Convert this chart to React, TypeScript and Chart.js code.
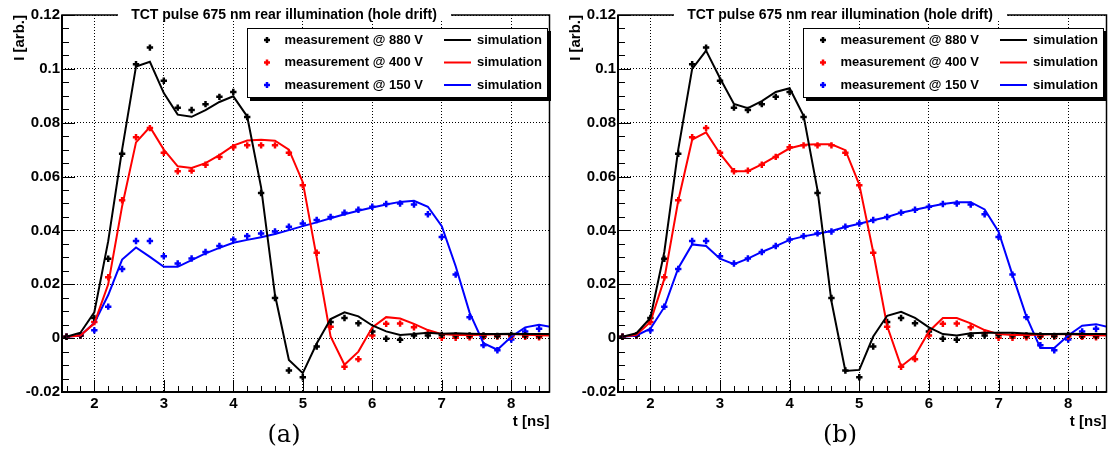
import React, { useEffect, useRef } from 'react';
import { Chart, registerables } from 'chart.js';

Chart.register(...registerables);

// ---------- text ----------
const plotTitle = 'TCT pulse 675 nm rear illumination (hole drift)';
const xAxisTitle = 't [ns]';
const yAxisTitle = 'I [arb.]';
const xTickLabels = ['2', '3', '4', '5', '6', '7', '8'];
const yTickLabels = ['-0.02', '0', '0.02', '0.04', '0.06', '0.08', '0.1', '0.12'];
const measLabels = ['measurement @ 880 V', 'measurement @ 400 V', 'measurement @ 150 V'];
const simLabel = 'simulation';
const panelTags = ['(a)', '(b)'];
const xRange = [1.535, 8.55];
const yRange = [-0.02, 0.12];

// ---------- data ----------
const timeNs = [1.6, 1.8, 2.0, 2.2, 2.4, 2.6, 2.8, 3.0, 3.2, 3.4, 3.6, 3.8, 4.0, 4.2, 4.4, 4.6, 4.8, 5.0,
  5.2, 5.4, 5.6, 5.8, 6.0, 6.2, 6.4, 6.6, 6.8, 7.0, 7.2, 7.4, 7.6, 7.8, 8.0, 8.2, 8.4];

const meas880V = [0.0005, 0.001, 0.0075, 0.0295, 0.0685, 0.1017, 0.1079, 0.0956, 0.0856, 0.0847, 0.0869,
  0.0896, 0.0914, 0.0821, 0.0539, 0.0149, -0.012, -0.0145, -0.0031, 0.006, 0.0075, 0.0055, 0.0025, -0.0002,
  -0.0006, 0.001, 0.001, 0.0012, 0.001, 0.001, 0.001, 0.0008, 0.0012, 0.001, 0.0008];
const meas400V = [0.0005, 0.001, 0.006, 0.0226, 0.0512, 0.0746, 0.078, 0.0688, 0.062, 0.0622, 0.0644,
  0.0673, 0.0709, 0.0716, 0.0716, 0.0716, 0.0688, 0.0568, 0.0317, 0.0042, -0.0106, -0.0078, 0.001, 0.0053,
  0.0054, 0.004, 0.0019, 0.0001, 0.0001, 0.0003, 0.0005, 0.0006, 0.0006, 0.0005, 0.0003];
const meas150V = [0.0005, 0.001, 0.0029, 0.0117, 0.0257, 0.0361, 0.0361, 0.0304, 0.0277, 0.0296, 0.032,
  0.0342, 0.0366, 0.0379, 0.0389, 0.0396, 0.0414, 0.0426, 0.0439, 0.045, 0.0466, 0.0477, 0.0488, 0.0498,
  0.05, 0.0496, 0.046, 0.0376, 0.0236, 0.0078, -0.0026, -0.0045, -0.0005, 0.0025, 0.0035];

const simTimeNs = [1.6, 1.8, 2.0, 2.2, 2.4, 2.6, 2.8, 3.0, 3.2, 3.4, 3.6, 3.8, 4.0, 4.2, 4.4, 4.6, 4.8, 5.0,
  5.2, 5.4, 5.6, 5.8, 6.0, 6.2, 6.4, 6.6, 6.8, 7.0, 7.2, 7.4, 7.6, 7.8, 8.0, 8.2, 8.4, 8.6];

// panel (a) simulations
const simA880V = [0.0005, 0.002, 0.0096, 0.036, 0.07, 0.1009, 0.1026, 0.091, 0.083, 0.0822, 0.0847, 0.0877,
  0.0898, 0.0823, 0.056, 0.016, -0.0081, -0.013, -0.002, 0.0071, 0.0096, 0.0081, 0.0047, 0.0025, 0.0012,
  0.0015, 0.002, 0.0016, 0.0018, 0.0016, 0.0015, 0.0015, 0.0016, 0.0015, 0.0015, 0.0015];
const simA400V = [0.0005, 0.001, 0.0055, 0.02, 0.049, 0.0727, 0.0784, 0.07, 0.0638, 0.0632, 0.065, 0.068,
  0.0715, 0.0734, 0.0737, 0.0733, 0.07, 0.0579, 0.03, 0.0006, -0.0099, -0.005, 0.004, 0.0078, 0.0073, 0.0053,
  0.003, 0.0015, 0.0012, 0.0012, 0.0013, 0.0014, 0.0015, 0.0013, 0.0011, 0.001];
const simA150V = [0.0005, 0.001, 0.0056, 0.016, 0.0292, 0.0337, 0.0302, 0.0265, 0.0265, 0.029, 0.0315,
  0.0335, 0.0354, 0.0365, 0.0375, 0.0387, 0.0401, 0.0416, 0.043, 0.0445, 0.046, 0.0473, 0.0485, 0.0496,
  0.0506, 0.051, 0.0488, 0.0416, 0.0267, 0.0095, -0.0019, -0.0043, 0.0005, 0.004, 0.005, 0.004];

// panel (b) simulations
const simB880V = [0.0005, 0.0018, 0.0075, 0.032, 0.07, 0.1, 0.1068, 0.0965, 0.087, 0.0854, 0.088, 0.0914,
  0.0928, 0.0826, 0.055, 0.0137, -0.0122, -0.0118, 0.0006, 0.0083, 0.0098, 0.0075, 0.004, 0.0015, 0.001,
  0.0018, 0.002, 0.002, 0.002, 0.0017, 0.0015, 0.0015, 0.0016, 0.0015, 0.0015, 0.0015];
const simB400V = [0.0005, 0.0012, 0.006, 0.022, 0.051, 0.0737, 0.0764, 0.0685, 0.062, 0.062, 0.0645, 0.0675,
  0.0705, 0.0718, 0.072, 0.072, 0.0698, 0.057, 0.032, 0.0045, -0.0105, -0.0065, 0.0025, 0.0075, 0.0075,
  0.0055, 0.003, 0.0015, 0.0012, 0.0012, 0.0013, 0.0014, 0.0015, 0.0012, 0.0011, 0.001];
const simB150V = [0.0005, 0.001, 0.0035, 0.0115, 0.026, 0.0348, 0.0342, 0.0295, 0.0275, 0.0295, 0.032,
  0.0342, 0.0365, 0.0378, 0.0388, 0.0398, 0.0413, 0.0425, 0.0438, 0.045, 0.0466, 0.0477, 0.0488, 0.0498,
  0.0505, 0.0505, 0.0478, 0.0395, 0.0235, 0.008, -0.0037, -0.0037, 0.001, 0.0046, 0.0052, 0.004];

const seriesColors = ['#000000', '#ff0000', '#0000ff'];
const SANS = '"Liberation Sans", Arial, Helvetica, sans-serif';
const SERIF = '"DejaVu Serif", "Liberation Serif", serif';

const labelFor = (labels: string[], v: number) =>
  labels.find((l) => Math.abs(parseFloat(l) - v) < 1e-9) ?? '';

const rootStylePlugin = {
  id: 'rootStyle',
  afterDraw(chart: any, _args: any, opts: any) {
    const { ctx, chartArea: a, scales } = chart;
    const xs = scales.x;
    const ys = scales.y;
    ctx.save();

    // inward tick marks
    ctx.strokeStyle = '#000';
    ctx.lineWidth = 1;
    const xMajors = xTickLabels.map(parseFloat);
    const yMajors = yTickLabels.map(parseFloat);
    for (let i = 0; i <= 40; i++) {
      const v = 1.6 + i * 0.2;
      if (v > xRange[1]) break;
      const isMajor = xMajors.some((m) => Math.abs(m - v) < 1e-6);
      const px = Math.round(xs.getPixelForValue(v)) + 0.5;
      ctx.beginPath();
      ctx.moveTo(px, a.bottom);
      ctx.lineTo(px, a.bottom - (isMajor ? 12 : 6));
      ctx.stroke();
    }
    for (let i = 0; i <= 28; i++) {
      const v = yRange[0] + i * 0.005;
      const isMajor = yMajors.some((m) => Math.abs(m - v) < 1e-6);
      const py = Math.round(ys.getPixelForValue(v)) + 0.5;
      ctx.beginPath();
      ctx.moveTo(a.left, py);
      ctx.lineTo(a.left + (isMajor ? 13 : 7), py);
      ctx.stroke();
    }

    // frame
    ctx.lineWidth = 1.5;
    ctx.strokeRect(a.left, a.top, a.right - a.left, a.bottom - a.top);
    ctx.lineWidth = 2;
    ctx.beginPath();
    ctx.moveTo(a.left, a.top);
    ctx.lineTo(a.left, a.bottom);
    ctx.lineTo(a.right, a.bottom);
    ctx.stroke();

    // title
    ctx.fillStyle = '#fff';
    ctx.fillRect(118, 6, 333, 15);
    ctx.fillStyle = '#000';
    ctx.font = `bold 14px ${SANS}`;
    ctx.textAlign = 'center';
    ctx.textBaseline = 'alphabetic';
    ctx.fillText(plotTitle, 284, 19);

    // axis titles
    ctx.font = `bold 15px ${SANS}`;
    ctx.textAlign = 'right';
    ctx.fillText(xAxisTitle, a.right, 426);
    ctx.save();
    ctx.translate(23.5, a.top);
    ctx.rotate(-Math.PI / 2);
    ctx.textAlign = 'right';
    ctx.fillText(yAxisTitle, 0, 0);
    ctx.restore();

    // legend
    const L = { x: 247, y: 28, w: 301, h: 70 };
    ctx.fillStyle = '#000';
    ctx.fillRect(L.x + 3, L.y + 3, L.w, L.h);
    ctx.fillStyle = '#fff';
    ctx.fillRect(L.x, L.y, L.w, L.h);
    ctx.strokeStyle = '#000';
    ctx.lineWidth = 1;
    ctx.strokeRect(L.x + 0.5, L.y + 0.5, L.w - 1, L.h - 1);
    const rows = [40, 62.5, 85];
    ctx.font = `bold 13px ${SANS}`;
    ctx.textAlign = 'left';
    ctx.textBaseline = 'middle';
    rows.forEach((ry, i) => {
      const c = seriesColors[i];
      ctx.strokeStyle = c;
      ctx.lineWidth = 2.5;
      ctx.beginPath();
      ctx.moveTo(264, ry);
      ctx.lineTo(270, ry);
      ctx.moveTo(267, ry - 3);
      ctx.lineTo(267, ry + 3);
      ctx.stroke();
      ctx.lineWidth = 2;
      ctx.fillStyle = '#000';
      ctx.fillText(measLabels[i], 284.5, ry);
      ctx.beginPath();
      ctx.moveTo(444, ry);
      ctx.lineTo(471, ry);
      ctx.stroke();
      ctx.fillText(simLabel, 477, ry);
    });

    // panel tag
    ctx.font = `24px ${SERIF}`;
    ctx.textAlign = 'center';
    ctx.textBaseline = 'alphabetic';
    ctx.fillStyle = '#000';
    ctx.fillText(opts.tag, 284, 442);
    ctx.restore();
  },
};

type PanelProps = { sims: number[][]; tag: string; left: number; width: number; padRight: number };

function Panel({ sims, tag, left, width, padRight }: PanelProps) {
  const ref = useRef<HTMLCanvasElement>(null);
  useEffect(() => {
    if (!ref.current) return;
    const measSeries = [meas880V, meas400V, meas150V];
    const datasets: any[] = [];
    sims.forEach((s, i) => {
      datasets.push({
        label: simLabel,
        data: simTimeNs.map((t, k) => ({ x: t, y: s[k] })),
        borderColor: seriesColors[i],
        backgroundColor: seriesColors[i],
        borderWidth: 2,
        pointRadius: 0,
        showLine: true,
        tension: 0,
        clip: 0,
      });
    });
    measSeries.forEach((m, i) => {
      datasets.push({
        label: measLabels[i],
        data: timeNs.map((t, k) => ({ x: t, y: m[k] })),
        borderColor: seriesColors[i],
        backgroundColor: seriesColors[i],
        showLine: false,
        pointStyle: 'cross',
        pointRadius: 3.2,
        pointBorderWidth: 2.5,
        clip: 0,
      });
    });
    const tickFont = { family: SANS, weight: 'bold' as const, size: 15 };
    const chart = new Chart(ref.current, {
      type: 'line',
      data: { datasets },
      options: {
        responsive: false,
        animation: false,
        devicePixelRatio: 1,
        events: [],
        layout: { padding: { top: 15, right: padRight, left: 0, bottom: 0 } },
        plugins: {
          legend: { display: false },
          tooltip: { enabled: false },
          title: { display: false },
          rootStyle: { tag },
        } as any,
        scales: {
          x: {
            type: 'linear',
            min: xRange[0],
            max: xRange[1],
            afterBuildTicks: (s: any) => {
              s.ticks = xTickLabels.map((l) => ({ value: parseFloat(l) }));
            },
            afterFit: (s: any) => {
              s.height = 62;
            },
            ticks: {
              font: tickFont,
              color: '#000',
              padding: 3,
              maxRotation: 0,
              autoSkip: false,
              callback: (v: any) => labelFor(xTickLabels, Number(v)),
            },
            grid: { color: '#000', lineWidth: 1, drawTicks: false },
            border: { display: false, dash: [1, 2] },
          },
          y: {
            type: 'linear',
            min: yRange[0],
            max: yRange[1],
            afterBuildTicks: (s: any) => {
              s.ticks = yTickLabels.map((l) => ({ value: parseFloat(l) }));
            },
            afterFit: (s: any) => {
              s.width = 62;
            },
            ticks: {
              font: tickFont,
              color: '#000',
              padding: 2,
              autoSkip: false,
              callback: (v: any) => labelFor(yTickLabels, Number(v)),
            },
            grid: { color: '#000', lineWidth: 1, drawTicks: false },
            border: { display: false, dash: [1, 2] },
          },
        },
      } as any,
      plugins: [rootStylePlugin],
    });
    return () => chart.destroy();
  }, []);
  return (
    <canvas
      ref={ref}
      width={width}
      height={454}
      style={{ position: 'absolute', left, top: 0, width, height: 454, display: 'block' }}
    />
  );
}

export default function App() {
  return (
    <div style={{ position: 'absolute', left: 0, top: 0, width: 1113, height: 454, background: '#fff', overflow: 'hidden' }}>
      <Panel sims={[simA880V, simA400V, simA150V]} tag={panelTags[0]} left={0} width={556} padRight={2} />
      <Panel sims={[simB880V, simB400V, simB150V]} tag={panelTags[1]} left={556} width={557} padRight={4} />
    </div>
  );
}
